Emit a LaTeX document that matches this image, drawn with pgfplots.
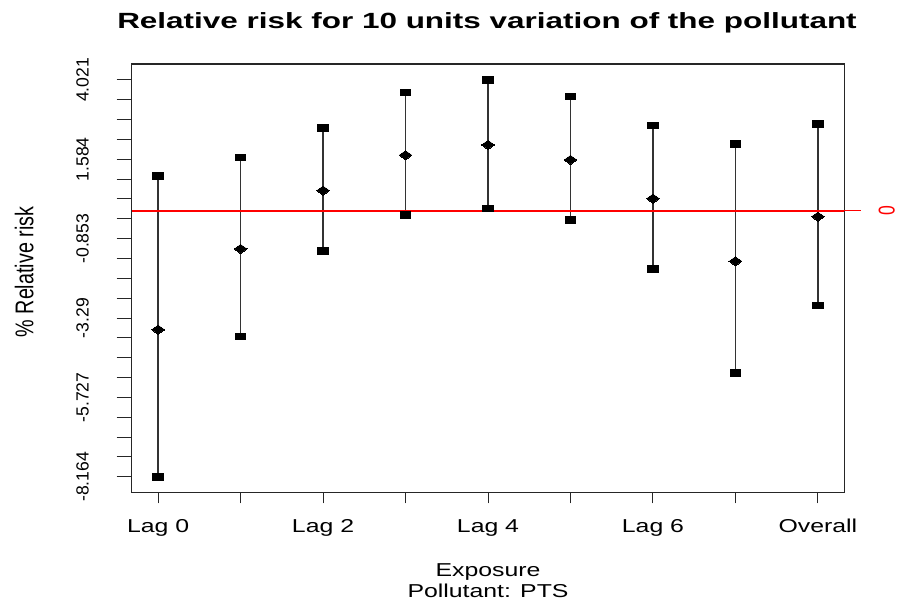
\documentclass[border=0pt]{standalone}
\usepackage{fontspec}
\setmainfont{Liberation Sans}[FakeStretch=1.33]
\newfontfamily\titlefont{Liberation Sans}[FakeStretch=1.43]
\newfontfamily\rotfont{Liberation Sans}
\usepackage{pgfplots}
\usepackage{pgfplotstable}
\pgfplotsset{compat=1.18}

% estimate and 95% interval, percent change per 10 units
\pgfplotstableread{
x est lo hi
0 -3.647 -8.164 1.073
1 -1.169 -3.862 1.635
2 0.622 -1.231 2.547
3 1.708 -0.135 3.631
4 2.025 0.069 4.021
5 1.564 -0.289 3.509
6 0.376 -1.794 2.618
7 -1.548 -4.979 2.055
8 -0.177 -2.910 2.659
}\rrdata

\pgfplotsset{
  frame/.style={
    scale only axis, width=534.45pt, height=321.53pt,
    at={(98.78pt,81.98pt)}, anchor=south west,
    xmin=-0.32, xmax=8.32, ymin=-8.652, ymax=4.509,
    tick align=outside,
    tick style={black!85, line width=0.75pt},
    clip=false,
  }
}

\begin{document}
\begin{tikzpicture}
% y ticks (longer) in their own layer
\begin{axis}[frame,
  axis line style={draw=none},
  xtick=\empty,
  ytick pos=left,
  major tick length=11.25pt,
  ytick={-8.164,-7.55475,-6.9455,-6.33625,-5.727,-5.11775,-4.5085,-3.89925,-3.29,-2.68075,-2.0715,-1.46225,-0.853,-0.24375,0.3655,0.97475,1.584,2.19325,2.8025,3.41175,4.021},
  yticklabels={-8.164,,,,-5.727,,,,-3.29,,,,-0.853,,,,1.584,,,,4.021},
  yticklabel style={font=\rotfont\fontsize{13.2}{15}\selectfont, rotate=90, anchor=south, inner sep=0pt},
  yticklabel shift=20.8pt,
]
\end{axis}
\begin{axis}[frame,
  axis line style={black!85, line width=0.8pt},
  xtick pos=bottom,
  ytick=\empty,
  major tick length=8pt,
  xtick={0,...,8},
  xticklabels={Lag 0,,Lag 2,,Lag 4,,Lag 6,,Overall},
  xticklabel style={font=\fontsize{14}{16}\selectfont, anchor=base, inner sep=0pt},
  xticklabel shift=21.7pt,
]
% interval whiskers
\addplot[only marks, mark=none,
  error bars/.cd, y dir=both, y explicit, error mark=none,
  error bar style={black!80, line width=1.2pt}]
  table[x=x, y=est,
        y error plus expr=\thisrow{hi}-\thisrow{est},
        y error minus expr=\thisrow{est}-\thisrow{lo}] {\rrdata};
% reference line at zero, with its right-hand tick
\addplot[red, line width=1.5pt] coordinates {(-0.32,0) (8.32,0)};
\addplot[red, line width=0.75pt] coordinates {(8.32,0) (8.526,0)};
% interval limits
\addplot[only marks, mark=square*, mark size=2.5pt,
  mark options={xscale=1.6, black, line width=0pt}] table[x=x, y=lo] {\rrdata};
\addplot[only marks, mark=square*, mark size=2.5pt,
  mark options={xscale=1.6, black, line width=0pt}] table[x=x, y=hi] {\rrdata};
% point estimates
\addplot[only marks, mark=diamond*, mark size=3.4pt,
  mark options={xscale=1.9, black, line width=0pt}] table[x=x, y=est] {\rrdata};
\end{axis}

\node[anchor=base, inner sep=0pt, font=\titlefont\bfseries\fontsize{16.5}{19}\selectfont]
  at (365.25pt,430.3pt) {Relative risk for 10 units variation of the pollutant};
\node[anchor=base, inner sep=0pt, font=\fontsize{14}{16}\selectfont]
  at (366pt,18.98pt) {Exposure};
\node[anchor=base, inner sep=0pt, font=\fontsize{14}{16}\selectfont]
  at (366pt,3.23pt) {Pollutant: PTS};
\node[rotate=90, anchor=base, inner sep=0pt]
  at (24.98pt,247.5pt) {\scalebox{1}[1.3]{\rotfont\fontsize{14.8}{17}\selectfont \% Relative risk}};
\node[rotate=90, anchor=base, inner sep=0pt, text=red]
  at (671pt,293.25pt) {\scalebox{1}[1.3]{\rotfont\fontsize{13.2}{15}\selectfont 0}};

\pgfresetboundingbox
\useasboundingbox (0,0) rectangle (675pt,451.5pt);
\end{tikzpicture}
\end{document}
